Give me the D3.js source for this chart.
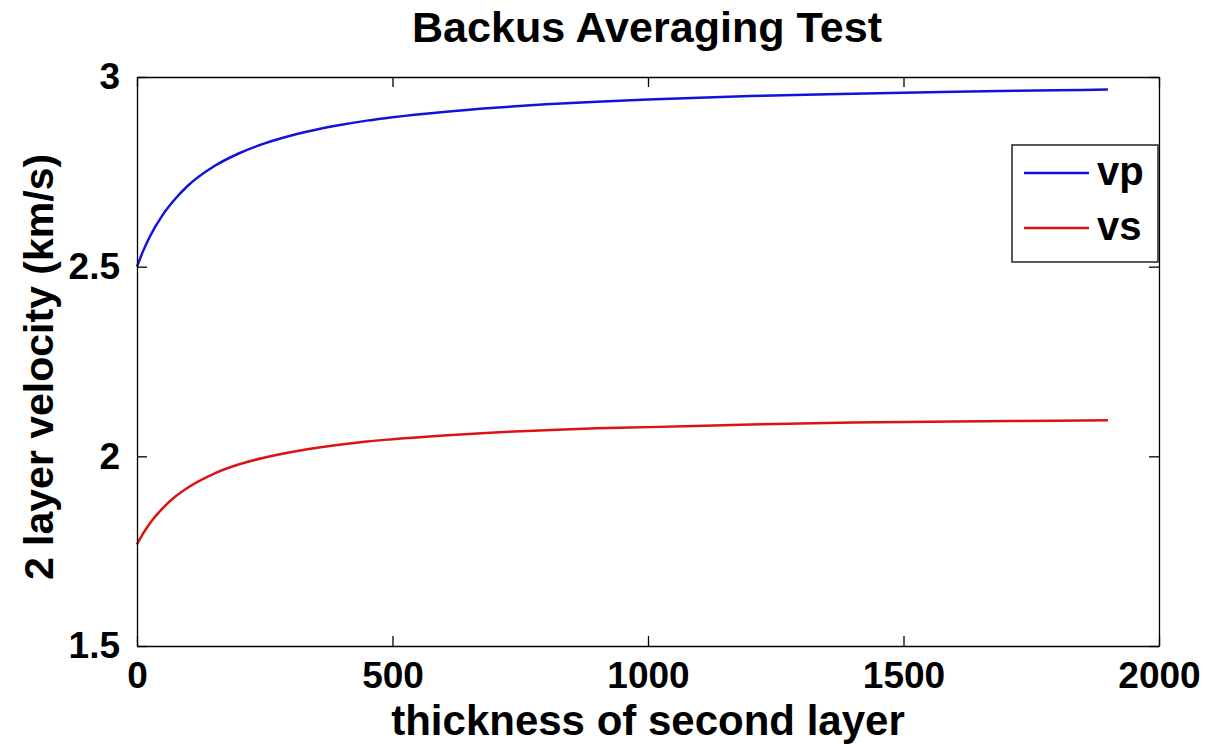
<!DOCTYPE html>
<html>
<head>
<meta charset="utf-8">
<script src="https://cdn.jsdelivr.net/npm/d3@7"></script>
<style>
  body { margin: 0; background: #fff; }
  text { font-family: "Liberation Sans", Arial, sans-serif; font-weight: bold; fill: #000; }
</style>
</head>
<body>
<div class="chart-container"></div>
<script>
// Data
const thickness = [0, 10, 25, 50, 75, 100, 150, 200, 250, 300, 350, 400, 450, 500,
  600, 700, 800, 900, 1000, 1200, 1400, 1600, 1800, 1900];
const vpValues = [2.500, 2.535, 2.579, 2.636, 2.679, 2.714, 2.764, 2.799, 2.825, 2.845,
  2.861, 2.874, 2.885, 2.894, 2.908, 2.919, 2.928, 2.935, 2.941, 2.950, 2.956, 2.961, 2.965, 2.967];
const vsValues = [1.768, 1.792, 1.823, 1.863, 1.894, 1.918, 1.954, 1.979, 1.997, 2.011,
  2.022, 2.031, 2.039, 2.045, 2.055, 2.063, 2.069, 2.074, 2.077, 2.084, 2.089, 2.092, 2.094, 2.095];
const seriesNames = ['vp', 'vs'];
const seriesColors = ['#1212dd', '#dd1212'];
const xTicks = [0, 500, 1000, 1500, 2000];
const yTicks = [1.5, 2, 2.5, 3];

const series = [
  { name: seriesNames[0], color: seriesColors[0], values: thickness.map((t, i) => ({ x: t, y: vpValues[i] })) },
  { name: seriesNames[1], color: seriesColors[1], values: thickness.map((t, i) => ({ x: t, y: vsValues[i] })) }
];

// 畫布
const svg_width = 1209;
const svg_height = 744;
const margin = { top: 77, right: 50, bottom: 98, left: 137 };
const chart_width = svg_width - margin.left - margin.right;
const chart_height = svg_height - margin.top - margin.bottom;

const svg = d3.select('.chart-container').append('svg')
  .attr('width', svg_width).attr('height', svg_height);
const g = svg.append('g').attr('transform', `translate(${margin.left},${margin.top})`);

const xScale = d3.scaleLinear().domain([0, 2000]).range([0, chart_width]);
const yScale = d3.scaleLinear().domain([1.5, 3]).range([chart_height, 0]);

// Lines
const lineGen = d3.line().x(d => xScale(d.x)).y(d => yScale(d.y)).curve(d3.curveMonotoneX);
g.selectAll('.line-series').data(series).enter()
  .append('path')
  .attr('class', d => `line-series ${d.name}`)
  .attr('d', d => lineGen(d.values))
  .style('fill', 'none').style('stroke', d => d.color).style('stroke-width', 2.5);

// Axes (box with inward ticks)
const axisStyle = sel => {
  sel.selectAll('path, line').attr('stroke', '#000').attr('stroke-width', 1.3);
  sel.selectAll('text').attr('font-size', 37).attr('fill', '#000');
};
g.append('g').attr('transform', `translate(0,${chart_height})`)
  .call(d3.axisBottom(xScale).tickValues(xTicks).tickFormat(d3.format('d'))
    .tickSizeInner(-10).tickSizeOuter(0).tickPadding(16))
  .call(axisStyle);
g.append('g')
  .call(d3.axisTop(xScale).tickValues(xTicks).tickFormat('').tickSizeInner(-10).tickSizeOuter(0))
  .call(axisStyle);
g.append('g')
  .call(d3.axisLeft(yScale).tickValues(yTicks).tickFormat(d => d)
    .tickSizeInner(-10).tickSizeOuter(0).tickPadding(17))
  .call(axisStyle);
g.append('g').attr('transform', `translate(${chart_width},0)`)
  .call(d3.axisRight(yScale).tickValues(yTicks).tickFormat('').tickSizeInner(-10).tickSizeOuter(0))
  .call(axisStyle);

// Title & axis labels
svg.append('text').attr('x', 647).attr('y', 42).attr('text-anchor', 'middle')
  .attr('font-size', 42).attr('textLength', 470).attr('lengthAdjust', 'spacingAndGlyphs')
  .text('Backus Averaging Test');
svg.append('text').attr('x', margin.left + chart_width / 2).attr('y', 735).attr('text-anchor', 'middle')
  .attr('font-size', 42).text('thickness of second layer');
svg.append('text').attr('transform', 'translate(53,367) rotate(-90)').attr('text-anchor', 'middle')
  .attr('font-size', 41).text('2 layer velocity (km/s)');

// Legend
const legend = svg.append('g').attr('class', 'legend').attr('transform', 'translate(1012,145)');
legend.append('rect').attr('width', 146).attr('height', 117)
  .attr('fill', '#fff').attr('stroke', '#222').attr('stroke-width', 1.5);
const items = legend.selectAll('.legend-item').data(series).enter()
  .append('g').attr('transform', (d, i) => `translate(0,${28 + i * 55})`);
items.append('line').attr('x1', 12).attr('x2', 77)
  .attr('stroke', d => d.color).attr('stroke-width', 2.5);
items.append('text').attr('x', 85).attr('y', 12).attr('font-size', 40).text(d => d.name);
</script>
</body>
</html>
